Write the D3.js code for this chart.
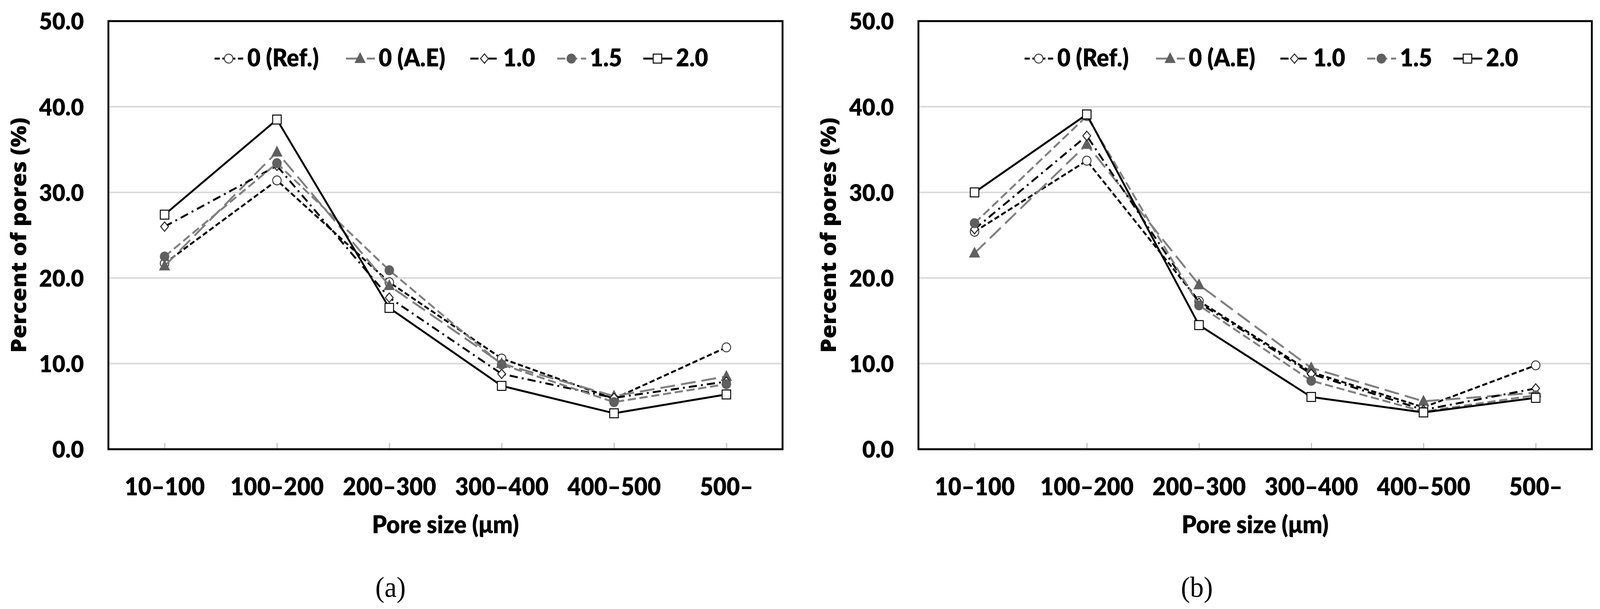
<!DOCTYPE html>
<html lang="en">
<head>
<meta charset="UTF-8">
<title>Percent of pores by pore size</title>
<script src="https://d3js.org/d3.v7.min.js"></script>
<style>
    html, body { margin: 0; padding: 0; background: #fff; overflow: hidden; }
    svg { display: block; width: 100vw; height: 100vh; }
    .tick text, .lbl { font-family: Lato, 'Open Sans', sans-serif; font-weight: 800; fill: #000; }
    .ytitle { font-family: 'Open Sans', 'DejaVu Sans', sans-serif; font-weight: 800; fill: #000; }
    .panel-tag { font-family: 'Liberation Serif', 'DejaVu Serif', serif; fill: #000; }
</style>
</head>
<body>
<svg id="chart" viewBox="0 0 4310 1559" preserveAspectRatio="none"></svg>
<script>
    // data
    const categories = ["10–100", "100–200", "200–300", "300–400", "400–500", "500–"];
    const seriesNames = ["0 (Ref.)", "0 (A.E)", "1.0", "1.5", "2.0"];
    const yTicks = [0, 10, 20, 30, 40, 50];

    // panel (a)
    const refA = [21.7, 31.4, 19.5, 10.6, 5.9, 11.9];
    const aeA  = [21.4, 34.7, 19.1, 10.0, 6.2, 8.5];
    const s10A = [26.0, 33.1, 17.7, 8.8, 6.0, 7.9];
    const s15A = [22.5, 33.4, 20.9, 9.9, 5.5, 7.6];
    const s20A = [27.4, 38.5, 16.5, 7.4, 4.2, 6.4];

    // panel (b)
    const refB = [25.4, 33.7, 17.3, 9.0, 4.9, 9.8];
    const aeB  = [22.9, 35.6, 19.2, 9.5, 5.6, 6.6];
    const s10B = [25.7, 36.6, 17.1, 8.8, 4.6, 7.1];
    const s15B = [26.4, 38.9, 16.8, 8.0, 4.4, 6.3];
    const s20B = [30.0, 39.1, 14.5, 6.1, 4.3, 6.0];

    const panels = [
        { tag: "(a)", tagX: 1052, left: 292, right: 2108, series: [refA, aeA, s10A, s15A, s20A] },
        { tag: "(b)", tagX: 3224, left: 2474, right: 4288, series: [refB, aeB, s10B, s15B, s20B] }
    ];

    const styles = [
        { stroke: "#000", dash: "14,7", marker: "circle", fill: "#fff", mstroke: "#404040" },
        { stroke: "#808080", dash: "40,16", marker: "triangle", fill: "#606060", mstroke: "#606060" },
        { stroke: "#000", dash: "22,11,5,11", marker: "diamond", fill: "#fff", mstroke: "#202020" },
        { stroke: "#808080", dash: "22,10", marker: "dot", fill: "#606060", mstroke: "#606060" },
        { stroke: "#000", dash: null, marker: "square", fill: "#fff", mstroke: "#000" }
    ];

    // legend entry offsets from the legend start (px)
    const legendSlots = [0, 354, 689, 923, 1155];

    const plotTop = 54, plotBottom = 1150;
    const svg = d3.select("#chart");

    function markerPath(type) {
        const p = d3.path();
        if (type === "circle" || type === "dot") {
            p.arc(0, 0, 11.5, 0, 2 * Math.PI);
        } else if (type === "square") {
            p.rect(-11.5, -11.5, 23, 23);
        } else if (type === "diamond") {
            p.moveTo(0, -12); p.lineTo(10.5, 0); p.lineTo(0, 12); p.lineTo(-10.5, 0); p.closePath();
        } else if (type === "triangle") {
            p.moveTo(0, -14); p.lineTo(13, 10); p.lineTo(-13, 10); p.closePath();
        }
        return p.toString();
    }

    panels.forEach(panel => {
        const g = svg.append("g");
        const x = d3.scalePoint().domain(categories).range([panel.left, panel.right]).padding(0.5);
        const y = d3.scaleLinear().domain([0, 50]).range([plotBottom, plotTop]);

        // gridlines
        g.selectAll(".grid")
            .data(yTicks.filter(t => t > 0 && t < 50))
            .enter().append("line")
            .attr("x1", panel.left).attr("x2", panel.right)
            .attr("y1", d => y(d)).attr("y2", d => y(d))
            .attr("stroke", "#d9d9d9").attr("stroke-width", 4);

        // y axis labels
        const yAxis = g.append("g")
            .attr("transform", `translate(${panel.left},0)`)
            .call(d3.axisLeft(y).tickValues(yTicks).tickFormat(d3.format(".1f")).tickSize(0).tickPadding(66));
        yAxis.select(".domain").remove();
        yAxis.selectAll("text").style("font-size", "61px").attr("dy", "0.36em");

        // x axis labels, with short ticks at each category
        const xAxis = g.append("g")
            .attr("transform", `translate(0,${plotBottom})`)
            .call(d3.axisBottom(x).tickSize(-16));
        xAxis.select(".domain").remove();
        xAxis.selectAll(".tick line").attr("stroke", "#bfbfbf").attr("stroke-width", 3);
        xAxis.selectAll("text").style("font-size", "62px").attr("y", 118).attr("dy", 0);

        // series
        const line = d3.line()
            .x((d, i) => x(categories[i]))
            .y(d => y(d));

        panel.series.forEach((vals, si) => {
            const st = styles[si];
            g.append("path")
                .datum(vals)
                .attr("d", line)
                .attr("fill", "none")
                .attr("stroke", st.stroke)
                .attr("stroke-width", 5)
                .attr("stroke-linejoin", "round")
                .attr("stroke-dasharray", st.dash);
            g.selectAll(".m" + si)
                .data(vals)
                .enter().append("path")
                .attr("d", markerPath(st.marker))
                .attr("transform", (d, i) => `translate(${x(categories[i])},${y(d)})`)
                .attr("fill", st.fill)
                .attr("stroke", st.mstroke)
                .attr("stroke-width", 2.5);
        });

        // frame
        g.append("rect")
            .attr("x", panel.left).attr("y", plotTop)
            .attr("width", panel.right - panel.left).attr("height", plotBottom - plotTop)
            .attr("fill", "none").attr("stroke", "#000").attr("stroke-width", 5);

        // legend
        const leg = g.append("g").attr("transform", `translate(${panel.left + 286},0)`);
        seriesNames.forEach((name, si) => {
            const st = styles[si];
            const lx = legendSlots[si];
            leg.append("line")
                .attr("x1", lx).attr("x2", lx + 78)
                .attr("y1", 150).attr("y2", 150)
                .attr("stroke", st.stroke).attr("stroke-width", 5)
                .attr("stroke-dasharray", st.dash);
            leg.append("path")
                .attr("d", markerPath(st.marker))
                .attr("transform", `translate(${lx + 38},150)`)
                .attr("fill", st.fill).attr("stroke", st.mstroke).attr("stroke-width", 2.5);
            leg.append("text")
                .attr("class", "lbl")
                .attr("x", lx + 88).attr("y", 170)
                .style("font-size", "62px")
                .text(name);
        });

        // axis titles
        g.append("text")
            .attr("class", "lbl")
            .attr("x", (panel.left + panel.right) / 2).attr("y", 1365)
            .attr("text-anchor", "middle")
            .style("font-size", "63px")
            .text("Pore size (μm)");

        g.append("text")
            .attr("class", "ytitle")
            .attr("transform", `translate(${panel.left - 222},${(plotTop + plotBottom) / 2}) rotate(-90)`)
            .attr("text-anchor", "middle")
            .style("font-size", "58px")
            .text("Percent of pores (%)");

        g.append("text")
            .attr("class", "panel-tag")
            .attr("x", panel.tagX).attr("y", 1528)
            .attr("text-anchor", "middle")
            .style("font-size", "74px")
            .text(panel.tag);
    });
</script>
</body>
</html>
